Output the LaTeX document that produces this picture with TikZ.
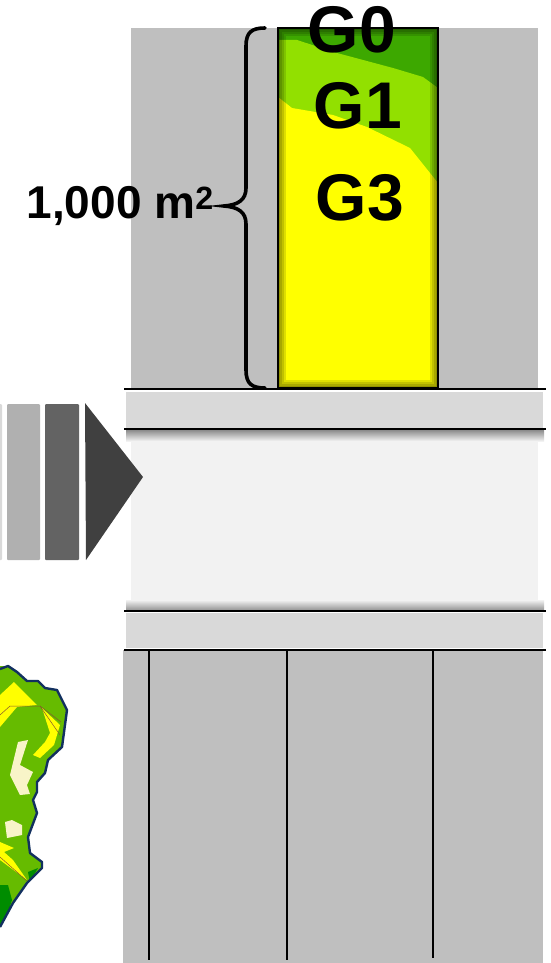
\documentclass[tikz,border=0pt]{standalone}
\usepackage{fontspec}
\setmainfont{Liberation Sans}
\usetikzlibrary{positioning}
\definecolor{wallgray}{HTML}{BFBFBF}
\definecolor{bandgray}{HTML}{D9D9D9}
\definecolor{coregray}{HTML}{F2F2F2}
\definecolor{layerdark}{HTML}{3DA800}
\definecolor{layerlight}{HTML}{92E000}
\definecolor{layeryellow}{HTML}{FFFF00}
\definecolor{mapgreen}{HTML}{66BB00}
\definecolor{mapline}{HTML}{12305F}
\definecolor{mapcream}{HTML}{F8F4C8}
\begin{document}
\begin{tikzpicture}[
    x=1pt, y=-1pt,
    rule/.style={line width=2.4pt, black},
    grade/.style={font=\bfseries\fontsize{66}{66}\selectfont, inner sep=0pt},
    sizelabel/.style={font=\bfseries\fontsize{46}{46}\selectfont, inner sep=0pt},
    bar/.style={rounded corners=1pt},
    glow/.style={black, opacity=0.13}
]
\useasboundingbox (0,0) rectangle (551,963);

% walls and bands
\fill[wallgray] (131,28) rectangle (538,388);
\fill[bandgray] (126,392) rectangle (543,428);
\fill[coregray] (131,430) rectangle (538,610);
\fill[bandgray] (126,613) rectangle (543,648);
\fill[wallgray] (123,650) rectangle (543,963);
\shade[top color=black!45, bottom color=coregray] (126,430) rectangle (544,441);
\shade[top color=coregray, bottom color=black!45] (126,600) rectangle (544,611);

% soil column
\begin{scope}
\clip (278,28) rectangle (438,388);
\fill[layerdark] (278,28) rectangle (438,388);
\fill[layerlight] (278,40) -- (297,40) -- (337,53) -- (393,68) -- (423,77) -- (438,88) -- (438,388) -- (278,388) -- cycle;
\fill[layeryellow] (278,97) -- (292,108) -- (333,115) -- (367,127) -- (410,148) -- (438,183) -- (438,388) -- (278,388) -- cycle;
\foreach \w in {16,12,8,4}
  \draw[glow, line width=\w pt] (278,28) rectangle (438,388);
\end{scope}
\draw[rule] (278,28) rectangle (438,388);

% horizontal rules
\foreach \y in {389,429,611,650}
  \draw[rule] (124,\y) -- (546,\y);
\foreach \x/\e in {149/960,287/960,433/958}
  \draw[rule] (\x,650) -- (\x,\e);

% big arrow
\fill[bandgray, bar] (-3,404) rectangle (2,560);
\fill[black!31, bar] (7,404) rectangle (40,560);
\fill[black!61, bar] (45,404) rectangle (79,560);
\fill[black!75] (85,403) -- (143,477) -- (86,560) -- cycle;

% map piece
\begin{scope}
\clip (0,666) -- (8,666) -- (17,672) -- (27,681) -- (38,681) -- (45,688) -- (57,690) -- (67,710) -- (62,747) -- (48,760) -- (45,773) -- (37,782) -- (37,792) -- (33,800) -- (37,813) -- (28,837) -- (30,853) -- (42,862) -- (42,868) -- (27,883) -- (13,903) -- (0,927) -- cycle;
\fill[mapgreen] (0,660) rectangle (70,930);
\fill[layeryellow] (0,695) -- (14,682) -- (27,695) -- (37,705) -- (17,707) -- (0,727) -- cycle;
\fill[layeryellow] (42,708) -- (60,725) -- (54,745) -- (40,758) -- (33,755) -- (45,742) -- (50,733) -- cycle;
\fill[mapcream] (18,742) -- (28,740) -- (20,765) -- (33,772) -- (27,785) -- (30,794) -- (20,795) -- (10,775) -- cycle;
\fill[mapcream] (5,822) -- (12,820) -- (22,825) -- (22,835) -- (7,838) -- cycle;
\fill[layeryellow] (0,842) -- (14,848) -- (4,852) -- (13,860) -- (27,880) -- (0,860) -- cycle;
\fill[green!55!black] (0,885) -- (8,885) -- (12,900) -- (4,925) -- (0,925) -- cycle;
\fill[green!55!black] (28,872) -- (38,868) -- (30,882) -- cycle;
\draw[brown!70!black, line width=0.5pt] (0,715) -- (10,706) -- (40,706) -- (61,722);
\draw[brown!70!black, line width=0.5pt] (40,706) -- (60,735);
\draw[brown!70!black, line width=0.5pt] (0,857) -- (27,881);
\end{scope}
\draw[mapline, line width=2.4pt, line join=round] (0,669) -- (8,666) -- (17,672) -- (27,681) -- (38,681) -- (45,688) -- (57,690) -- (67,710) -- (62,747) -- (48,760) -- (45,773) -- (37,782) -- (37,792) -- (33,800) -- (37,813) -- (28,837) -- (30,853) -- (42,862) -- (42,868) -- (27,883) -- (13,903) -- (0,927);

% brace
\draw[line width=3.6pt, line cap=round] (265,28) .. controls (252,28) and (246,32) .. (246,46) -- (246,188) .. controls (246,200) and (238,205) .. (224,206) .. controls (238,207) and (246,212) .. (246,224) -- (246,370) .. controls (246,384) and (252,388) .. (265,388);

% labels
\node[grade] (g0) at (352,30) {G0};
\node[grade] (g1) at (358,106) {G1};
\node[grade] (g3) at (360,198) {G3};
\node[sizelabel, anchor=east] (area) at (214,206) {1,000 m\textsuperscript{2}};
\end{tikzpicture}
\end{document}
